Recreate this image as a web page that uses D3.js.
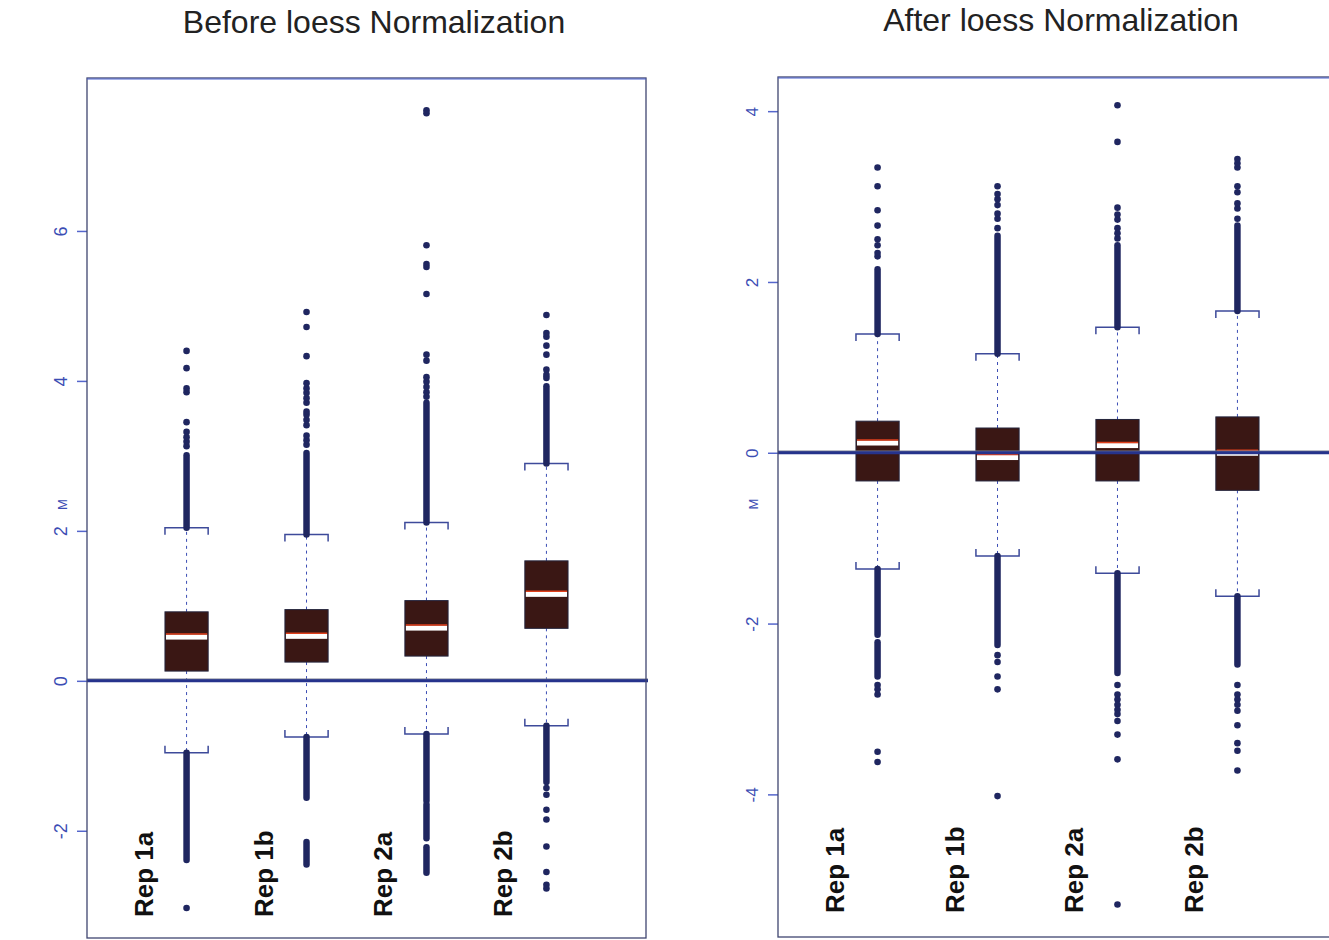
<!DOCTYPE html>
<html>
<head>
<meta charset="utf-8">
<script src="https://cdn.jsdelivr.net/npm/d3@7"></script>
<style>
  body { margin: 0; background: #fff; }
  text { font-family: "Liberation Sans", Arial, sans-serif; }
</style>
</head>
<body>
<div id="chart"></div>
<script>
'use strict';

const categories = ["Rep 1a", "Rep 1b", "Rep 2a", "Rep 2b"];
const yTicksBefore = [-2, 0, 2, 4, 6];
const yTicksAfter = [-4, -2, 0, 2, 4];

// before loess
const lowerWhiskerBefore = [-0.96, -0.75, -0.71, -0.60];
const q1Before = [0.13, 0.25, 0.33, 0.70];
const medianBefore = [0.59, 0.60, 0.71, 1.16];
const q3Before = [0.92, 0.95, 1.07, 1.60];
const upperWhiskerBefore = [2.04, 1.95, 2.11, 2.90];
// outlier runs too dense to tell apart as single dots
const denseRunsBefore = [
    [[2.04, 3.01], [-0.96, -2.39]],
    [[1.95, 3.04], [-0.75, -1.56], [-2.15, -2.45]],
    [[2.11, 3.71], [-0.71, -1.60], [-1.65, -2.10], [-2.22, -2.56]],
    [[2.90, 3.93], [-0.60, -1.35]]
];
const outliersBefore = [
    [3.13, 3.19, 3.25, 3.32, 3.45, 3.85, 3.90, 4.17, 4.40, -3.03],
    [3.15, 3.21, 3.27, 3.41, 3.48, 3.55, 3.59, 3.71, 3.77, 3.84, 3.90, 3.97, 4.33, 4.72, 4.92],
    [3.79, 3.85, 3.92, 3.99, 4.05, 4.27, 4.35, 5.16, 5.52, 5.56, 5.81, 7.57, 7.61],
    [4.04, 4.08, 4.15, 4.35, 4.47, 4.59, 4.64, 4.88, -1.43, -1.52, -1.72, -1.85, -2.21, -2.55, -2.72, -2.77]
];

// after loess
const lowerWhiskerAfter = [-1.36, -1.21, -1.41, -1.68];
const q1After = [-0.33, -0.33, -0.33, -0.44];
const medianAfter = [0.12, -0.05, 0.09, 0.00];
const q3After = [0.37, 0.29, 0.39, 0.42];
const upperWhiskerAfter = [1.39, 1.16, 1.47, 1.66];
const denseRunsAfter = [
    [[1.39, 2.15], [-1.36, -2.13], [-2.22, -2.62]],
    [[1.16, 2.54], [-1.21, -2.25]],
    [[1.47, 2.43], [-1.41, -2.58]],
    [[1.66, 2.66], [-1.68, -2.48]]
];
const outliersAfter = [
    [2.30, 2.34, 2.43, 2.50, 2.66, 2.84, 3.12, 3.34, -2.72, -2.77, -2.83, -3.50, -3.62],
    [2.63, 2.74, 2.80, 2.90, 2.97, 3.03, 3.12, -2.37, -2.45, -2.62, -2.77, -4.02],
    [2.51, 2.57, 2.63, 2.73, 2.79, 2.87, 3.64, 4.07, -2.72, -2.83, -2.89, -2.95, -3.01, -3.06, -3.14, -3.30, -3.59, -5.29],
    [2.74, 2.86, 2.92, 3.05, 3.12, 3.34, 3.39, 3.44, -2.72, -2.83, -2.89, -2.95, -3.02, -3.19, -3.40, -3.49, -3.72]
];

const WIDTH = 1329;
const HEIGHT = 940;

const BOX_FILL = "#3a1714";
const DOT = "#1f2660";
const BLUE = "#3b4db4";

let svg = d3.select('#chart').append('svg')
    .attr("width", WIDTH)
    .attr("height", HEIGHT);

function drawPanel(p) {
    let g = svg.append("g");

    let x = d3.scalePoint()
        .domain(categories)
        .range([p.left, p.right])
        .padding(0.83);
    let y = d3.scaleLinear()
        .domain(p.domain)
        .range([p.bottom, p.top]);

    let boxW = x.step() * 0.36;

    let data = categories.map(function (c, i) {
        return {
            cat: c,
            lo: p.lower[i], q1: p.q1[i], med: p.median[i], q3: p.q3[i], hi: p.upper[i],
            runs: p.runs[i], out: p.outliers[i]
        };
    });

    // title
    svg.append("text")
        .text(p.title)
        .attr("x", p.titleX)
        .attr("y", p.titleY)
        .attr("text-anchor", "middle")
        .style("font-size", "32px")
        .style("fill", "#222");

    // y axis, labels turned like in R
    let axis = g.append("g")
        .attr("transform", "translate(" + p.left + ",0)")
        .call(d3.axisLeft(y).tickValues(p.ticks).tickSize(10).tickFormat(function (d) { return String(d); }));
    axis.select(".domain").remove();
    axis.selectAll(".tick line").attr("stroke", "#5566cc").attr("stroke-width", 1.5);
    axis.selectAll(".tick text")
        .attr("x", null)
        .attr("dy", null)
        .attr("text-anchor", "middle")
        .attr("transform", "translate(-20,0) rotate(-90)")
        .style("font-size", p.tickFont)
        .style("font-family", "'Liberation Sans', Arial, sans-serif")
        .style("fill", BLUE);

    g.append("text")
        .text("M")
        .attr("transform", "translate(" + (p.left - 20) + "," + y(p.mAt) + ") rotate(-90)")
        .attr("text-anchor", "middle")
        .style("font-size", "13px")
        .style("fill", BLUE);

    let box = g.selectAll(".box").data(data).enter().append("g")
        .attr("class", "box")
        .attr("transform", function (d) { return "translate(" + x(d.cat) + ",0)"; });

    // dashed whiskers
    box.append("line")
        .attr("y1", function (d) { return y(d.q3); })
        .attr("y2", function (d) { return y(d.hi); })
        .attr("stroke", BLUE).attr("stroke-width", 1)
        .attr("stroke-dasharray", "3,4");
    box.append("line")
        .attr("y1", function (d) { return y(d.q1); })
        .attr("y2", function (d) { return y(d.lo); })
        .attr("stroke", BLUE).attr("stroke-width", 1)
        .attr("stroke-dasharray", "3,4");

    // bracket caps, legs point to the box
    let leg = 7;
    box.append("path")
        .attr("d", function (d) {
            let yy = y(d.hi);
            return "M" + (-boxW / 2) + "," + (yy + leg) + "V" + yy + "H" + (boxW / 2) + "V" + (yy + leg);
        })
        .attr("fill", "none").attr("stroke", "#3d4a9a").attr("stroke-width", 1.5);
    box.append("path")
        .attr("d", function (d) {
            let yy = y(d.lo);
            return "M" + (-boxW / 2) + "," + (yy - leg) + "V" + yy + "H" + (boxW / 2) + "V" + (yy - leg);
        })
        .attr("fill", "none").attr("stroke", "#3d4a9a").attr("stroke-width", 1.5);

    // dense outlier runs
    box.selectAll(".run").data(function (d) { return d.runs; }).enter().append("line")
        .attr("class", "run")
        .attr("y1", function (r) { return y(r[0]); })
        .attr("y2", function (r) { return y(r[1]); })
        .attr("stroke", DOT)
        .attr("stroke-width", 6.5)
        .attr("stroke-linecap", "round");

    // single outliers
    box.selectAll(".out").data(function (d) { return d.out; }).enter().append("circle")
        .attr("class", "out")
        .attr("cy", function (v) { return y(v); })
        .attr("r", 3.3)
        .attr("fill", DOT);

    // box
    box.append("rect")
        .attr("x", -boxW / 2)
        .attr("width", boxW)
        .attr("y", function (d) { return y(d.q3); })
        .attr("height", function (d) { return y(d.q1) - y(d.q3); })
        .attr("fill", BOX_FILL)
        .attr("stroke", "#24243c")
        .attr("stroke-width", 1);

    // median: white band with red edge on top
    box.append("rect")
        .attr("x", -boxW / 2 + 1)
        .attr("width", boxW - 2)
        .attr("y", function (d) { return y(d.med) - 2; })
        .attr("height", 5)
        .attr("fill", "#fff");
    box.append("line")
        .attr("x1", -boxW / 2 + 1)
        .attr("x2", boxW / 2 - 1)
        .attr("y1", function (d) { return y(d.med) - 2.5; })
        .attr("y2", function (d) { return y(d.med) - 2.5; })
        .attr("stroke", "#e0401c")
        .attr("stroke-width", 1.5);

    // zero line
    g.append("line")
        .attr("x1", p.left)
        .attr("x2", p.right + 2)
        .attr("y1", y(0) - 1.5)
        .attr("y2", y(0) - 1.5)
        .attr("stroke", "#7a7f90")
        .attr("stroke-width", 1.5);
    g.append("line")
        .attr("x1", p.left)
        .attr("x2", p.right + 2)
        .attr("y1", y(0))
        .attr("y2", y(0))
        .attr("stroke", "#26338c")
        .attr("stroke-width", 3);

    // frame
    g.append("rect")
        .attr("x", p.left)
        .attr("y", p.top)
        .attr("width", p.right - p.left)
        .attr("height", p.bottom - p.top)
        .attr("fill", "none")
        .attr("stroke", "#3f4670")
        .attr("stroke-width", 1.3);
    g.append("line")
        .attr("x1", p.left).attr("x2", p.right)
        .attr("y1", p.top + 1).attr("y2", p.top + 1)
        .attr("stroke", "#4d63d0").attr("stroke-width", 1.2);

    // category labels
    g.selectAll(".cat").data(categories).enter().append("text")
        .attr("class", "cat")
        .text(function (d) { return d; })
        .attr("transform", function (d) {
            return "translate(" + (x(d) - 34) + "," + (p.bottom - p.labelGap) + ") rotate(-90)";
        })
        .attr("text-anchor", "start")
        .style("font-size", "26px")
        .style("font-weight", "bold")
        .style("fill", "#111");
}

drawPanel({
    title: "Before loess Normalization", titleX: 374, titleY: 33,
    left: 87, right: 646, top: 78, bottom: 938,
    domain: [-3.43, 8.04], ticks: yTicksBefore, tickFont: "18px", mAt: 2.35,
    lower: lowerWhiskerBefore, q1: q1Before, median: medianBefore, q3: q3Before, upper: upperWhiskerBefore,
    runs: denseRunsBefore, outliers: outliersBefore, labelGap: 21
});

drawPanel({
    title: "After loess Normalization", titleX: 1061, titleY: 31,
    left: 778, right: 1337, top: 77, bottom: 937,
    domain: [-5.67, 4.4], ticks: yTicksAfter, tickFont: "17px", mAt: -0.6,
    lower: lowerWhiskerAfter, q1: q1After, median: medianAfter, q3: q3After, upper: upperWhiskerAfter,
    runs: denseRunsAfter, outliers: outliersAfter, labelGap: 24
});
</script>
</body>
</html>
